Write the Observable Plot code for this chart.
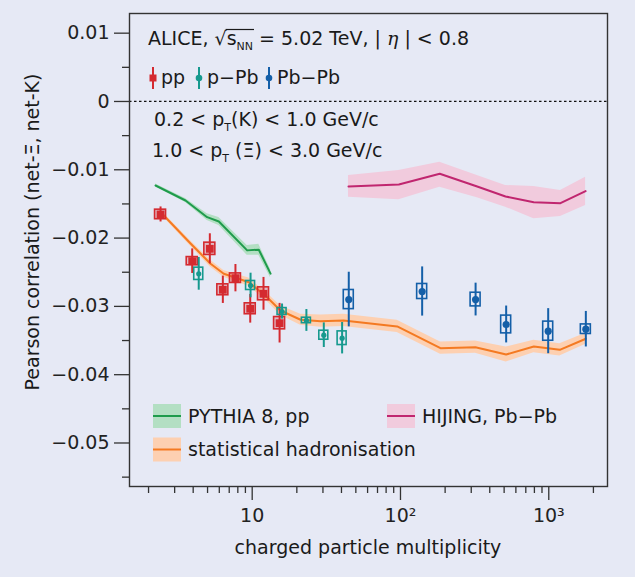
<!DOCTYPE html>
<html>
<head>
<meta charset="utf-8">
<script src="https://cdn.jsdelivr.net/npm/d3@7"></script>
<script src="https://cdn.jsdelivr.net/npm/@observablehq/plot@0.6"></script>
<style>
  html, body { margin: 0; padding: 0; background: #e6e9f5; }
  #chart { width: 635px; height: 577px; }
</style>
</head>
<body>
<div id="chart"></div>
<script>
// ---------- data ----------
const ppMult = [2.41, 3.94, 5.18, 6.34, 7.71, 9.7, 11.92, 15.3];
const ppCorr = [-0.01654, -0.02338, -0.02157, -0.02757, -0.02587, -0.03035, -0.02816, -0.03246];
const ppStat = [0.0011, 0.0018, 0.0022, 0.0020, 0.0020, 0.0021, 0.0024, 0.0029];
const ppSys  = [0.0007, 0.0006, 0.0009, 0.0008, 0.0007, 0.0008, 0.00095, 0.0009];

const pPbMult = [4.36, 9.75, 15.9, 23.2, 30.4, 40.4];
const pPbCorr = [-0.02523, -0.02694, -0.03075, -0.03206, -0.03422, -0.03466];
const pPbStat = [0.0024, 0.0018, 0.0011, 0.0016, 0.0018, 0.0023];
const pPbSys  = [0.0009, 0.00066, 0.0005, 0.0004, 0.00066, 0.001];

const PbPbMult = [44.8, 140, 321, 516, 991, 1778];
const PbPbCorr = [-0.0290, -0.02782, -0.0290, -0.03265, -0.03363, -0.03334];
const PbPbStat = [0.0040, 0.0036, 0.0024, 0.0027, 0.0033, 0.0026];
const PbPbSys  = [0.0014, 0.0011, 0.0010, 0.0013, 0.0014, 0.0007];

const pythiaMult = [2.23, 3.55, 4.97, 5.96, 9.25, 11.08, 13.3];
const pythiaCorr = [-0.0123, -0.0145, -0.01694, -0.01757, -0.0218, -0.0217, -0.0252];
const pythiaErr  = [0.0002, 0.0003, 0.0005, 0.0006, 0.0007, 0.0008, 0.0006];

const shmMult = [2.47, 3.84, 5.24, 6.43, 9.49, 12.6, 15.5, 21.2, 28.9, 41.3, 95, 186, 320, 516, 793, 1186, 1778];
const shmCorr = [-0.01644, -0.02079, -0.02376, -0.02523, -0.02646, -0.02866, -0.0306, -0.03196, -0.03217, -0.03206, -0.03294, -0.03612, -0.03597, -0.03704, -0.03587, -0.03636, -0.03474];
const shmErr  = [0.0003, 0.0004, 0.0005, 0.0005, 0.0006, 0.0006, 0.0007, 0.0008, 0.0009, 0.0009, 0.0009, 0.0009, 0.0009, 0.0011, 0.0009, 0.0009, 0.0008];

const hijingMult = [44.6, 97.5, 184, 329, 511, 792, 1199, 1771];
const hijingCorr = [-0.01245, -0.01215, -0.01059, -0.01245, -0.01391, -0.01474, -0.01489, -0.01313];
const hijingLo   = [-0.01401, -0.01439, -0.01255, -0.0141, -0.01547, -0.01717, -0.01684, -0.01523];
const hijingHi   = [-0.01083, -0.0101, -0.00889, -0.01083, -0.0123, -0.01245, -0.01303, -0.01108];

const yMajorTicks = [0.01, 0, -0.01, -0.02, -0.03, -0.04, -0.05];
const yMinorTicks = [0.005, -0.005, -0.015, -0.025, -0.035, -0.045, -0.055];
const xMajorTicks = [10, 100, 1000];
const xMajorLabels = ["10", "10²", "10³"];
const xMinorTicks = [2,3,4,5,6,7,8,9,20,30,40,50,60,70,80,90,200,300,400,500,600,700,800,900,2000];

// ---------- colours ----------
const C = {
  pp: "#d42a30", pPb: "#16998e", PbPb: "#145fa8",
  pythia: "#1f9b4c", pythiaBand: "#b3dfc3",
  shm: "#f47a22", shmBand: "#fdd0b1",
  hijing: "#c0266f", hijingBand: "#f1cbdd",
  axis: "#333"
};
const FONT = "DejaVu Sans";

// ---------- tables ----------
const table = (xs, ys, a, b) => xs.map((x, i) => ({x, y: ys[i], stat: a[i], sys: b[i]}));
const pp = table(ppMult, ppCorr, ppStat, ppSys);
const pPb = table(pPbMult, pPbCorr, pPbStat, pPbSys);
const PbPb = table(PbPbMult, PbPbCorr, PbPbStat, PbPbSys);
const pythia = pythiaMult.map((x, i) => ({x, y: pythiaCorr[i], lo: pythiaCorr[i] - pythiaErr[i], hi: pythiaCorr[i] + pythiaErr[i]}));
const shm = shmMult.map((x, i) => ({x, y: shmCorr[i], lo: shmCorr[i] - shmErr[i], hi: shmCorr[i] + shmErr[i]}));
const hijing = hijingMult.map((x, i) => ({x, y: hijingCorr[i], lo: hijingLo[i], hi: hijingHi[i]}));

// ---------- layout ----------
const W = 635, H = 577;
const M = {top: 13, right: 28, bottom: 91, left: 129};
const xDomain = [1.488, 2489];
const yDomain = [-0.05637, 0.01288];
const decadePx = (W - M.left - M.right) / Math.log10(xDomain[1] / xDomain[0]);
const kx = px => Math.pow(10, px / decadePx);

function dataMarks(rows, color, sym, r, halfPx, boxFill) {
  const k = kx(halfPx);
  return [
    Plot.ruleX(rows, {x: "x", y1: d => d.y - d.stat, y2: d => d.y + d.stat, stroke: color, strokeWidth: 2}),
    Plot.rect(rows, {x1: d => d.x / k, x2: d => d.x * k, y1: d => d.y - d.sys, y2: d => d.y + d.sys,
      stroke: color, strokeWidth: 1.6, fill: boxFill, fillOpacity: 0.25}),
    Plot.dot(rows, {x: "x", y: "y", symbol: sym, r, fill: color, stroke: "none"})
  ];
}

const svg = Plot.plot({
  width: W, height: H,
  marginTop: M.top, marginRight: M.right, marginBottom: M.bottom, marginLeft: M.left,
  x: {type: "log", domain: xDomain},
  y: {domain: yDomain},
  style: {background: "#e6e9f5", fontFamily: FONT, fontSize: "19px", color: "#222"},
  marks: [
    Plot.areaY(pythia, {x: "x", y1: "lo", y2: "hi", fill: C.pythiaBand}),
    Plot.areaY(shm, {x: "x", y1: "lo", y2: "hi", fill: C.shmBand}),
    Plot.areaY(hijing, {x: "x", y1: "lo", y2: "hi", fill: C.hijingBand}),
    Plot.lineY(pythia, {x: "x", y: "y", stroke: C.pythia, strokeWidth: 2}),
    Plot.lineY(shm, {x: "x", y: "y", stroke: C.shm, strokeWidth: 2}),
    Plot.lineY(hijing, {x: "x", y: "y", stroke: C.hijing, strokeWidth: 2}),
    Plot.ruleY([0], {stroke: "#111", strokeWidth: 1.3, strokeDasharray: "2.5,2.5"}),
    ...dataMarks(pp, C.pp, "square", 4.4, 5.5, C.pp),
    ...dataMarks(pPb, C.pPb, "circle", 2.6, 4.5, "none"),
    ...dataMarks(PbPb, C.PbPb, "circle", 3.6, 5, "none"),
    Plot.axisX(xMajorTicks, {tickSize: 14, tickPadding: 8, stroke: C.axis, strokeWidth: 1.3,
      tickFormat: d => xMajorLabels[xMajorTicks.indexOf(d)], label: null}),
    Plot.axisX(xMinorTicks, {tickSize: 7, stroke: C.axis, strokeWidth: 1.3, tickFormat: () => "", label: null}),
    Plot.axisY(yMajorTicks, {tickSize: 15, tickPadding: 5, stroke: C.axis, strokeWidth: 1.3,
      tickFormat: d => d === 0 ? "0" : d3.format(".2f")(d), label: null}),
    Plot.axisY(yMinorTicks, {tickSize: 7, stroke: C.axis, strokeWidth: 1.3, tickFormat: () => "", label: null}),
    Plot.frame({stroke: C.axis, strokeWidth: 1.4})
  ]
});
document.getElementById("chart").appendChild(svg);

// ---------- annotations ----------
const s = d3.select(svg);
const g = s.append("g").attr("font-family", FONT).attr("font-size", 19).attr("fill", "#1a1a1a")
  .attr("text-anchor", "start").style("text-anchor", "start");

// title line
const t1 = g.append("text").attr("x", 148).attr("y", 45);
t1.append("tspan").text("ALICE, √");
t1.append("tspan").text("s");
t1.append("tspan").attr("font-size", 11).attr("dy", 5).text("NN");
t1.append("tspan").attr("dy", -5).text(" = 5.02 TeV, | ");
t1.append("tspan").attr("font-family", "DejaVu Serif").attr("font-style", "italic").text("η");
t1.append("tspan").text(" | < 0.8");
(function overline() {
  const node = t1.node();
  const iS = "ALICE, √".length;
  const iEnd = iS + 2;
  try {
    const x0 = node.getEndPositionOfChar(iS - 1).x - 1;
    const x1 = node.getEndPositionOfChar(iEnd).x + 1;
    g.append("line").attr("x1", x0).attr("x2", x1).attr("y1", 29.5).attr("y2", 29.5)
      .attr("stroke", "#1a1a1a").attr("stroke-width", 1.2);
  } catch (e) {}
})();

// data legend row
const legRow = [
  {label: "pp", color: C.pp, x: 153, sym: "square"},
  {label: "p−Pb", color: C.pPb, x: 199, sym: "circle"},
  {label: "Pb−Pb", color: C.PbPb, x: 269, sym: "circle"}
];
legRow.forEach(d => {
  g.append("line").attr("x1", d.x).attr("x2", d.x).attr("y1", 67).attr("y2", 89)
    .attr("stroke", d.color).attr("stroke-width", 2);
  if (d.sym === "square") g.append("rect").attr("x", d.x - 3.5).attr("y", 74.5).attr("width", 7).attr("height", 7).attr("fill", d.color);
  else g.append("circle").attr("cx", d.x).attr("cy", 78).attr("r", 3.3).attr("fill", d.color);
  g.append("text").attr("x", d.x + 8).attr("y", 84).text(d.label);
});

// kinematic cuts
const t2 = g.append("text").attr("x", 154).attr("y", 126);
t2.append("tspan").text("0.2 < p");
t2.append("tspan").attr("font-size", 11).attr("dy", 5).text("T");
t2.append("tspan").attr("dy", -5).text("(K) < 1.0 GeV/c");
const t3 = g.append("text").attr("x", 152).attr("y", 157);
t3.append("tspan").text("1.0 < p");
t3.append("tspan").attr("font-size", 11).attr("dy", 5).text("T");
t3.append("tspan").attr("dy", -5).text(" (Ξ) < 3.0 GeV/c");

// model legend
const models = [
  {label: "PYTHIA 8, pp", line: C.pythia, band: C.pythiaBand, x: 153, y: 416},
  {label: "HIJING, Pb−Pb", line: C.hijing, band: C.hijingBand, x: 387, y: 416},
  {label: "statistical hadronisation", line: C.shm, band: C.shmBand, x: 153, y: 449.5}
];
models.forEach(d => {
  g.append("rect").attr("x", d.x).attr("y", d.y - 12).attr("width", 28).attr("height", 24).attr("fill", d.band);
  g.append("line").attr("x1", d.x).attr("x2", d.x + 28).attr("y1", d.y).attr("y2", d.y)
    .attr("stroke", d.line).attr("stroke-width", 2);
  g.append("text").attr("x", d.x + 35).attr("y", d.y + 6.5).text(d.label);
});

// axis titles
g.append("text").attr("x", 368).attr("y", 554).attr("text-anchor", "middle").style("text-anchor", "middle").text("charged particle multiplicity");
g.append("text").attr("transform", "translate(32,232) rotate(-90)").attr("text-anchor", "middle").style("text-anchor", "middle")
  .attr("dominant-baseline", "central").text("Pearson correlation (net-Ξ, net-K)");
</script>
</body>
</html>
